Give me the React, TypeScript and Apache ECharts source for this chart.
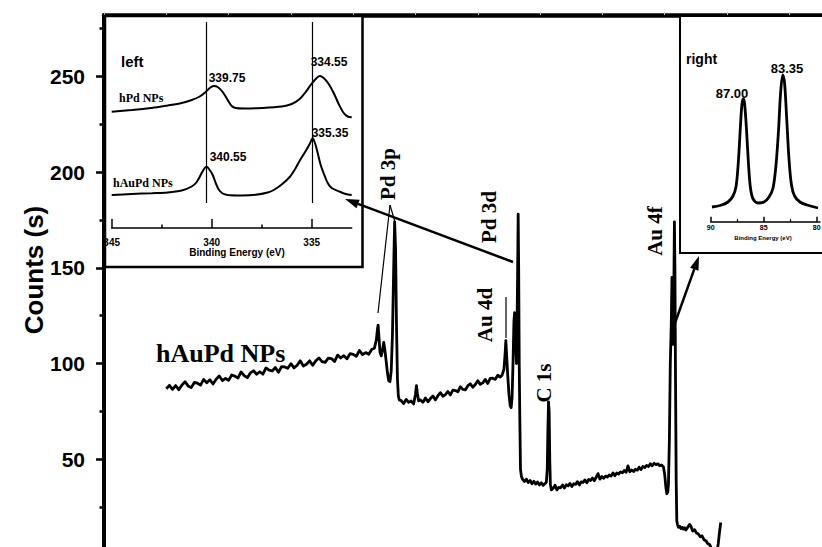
import React, { useEffect, useRef } from "react";
import * as echarts from "echarts";

// ---------- DATA ----------
// Survey spectrum of hAuPd NPs: [binding energy (eV), counts]
const survey: [number, number][] = [
  [900, 86.8], [895, 88.6], [890, 86.5], [885, 88.5], [880, 86.3], [875, 88.7], [870, 90.5], [865, 88.3], [860, 87.4], [855, 90.1],
  [850, 89.7], [845, 88.7], [840, 91.7], [835, 90.0], [830, 91.5], [825, 89.3], [820, 91.8], [815, 93.5], [810, 91.1], [805, 92.2],
  [800, 91.2], [795, 94.0], [790, 93.4], [785, 92.4], [780, 95.6], [775, 93.7], [770, 92.6], [765, 95.1], [760, 96.2], [755, 94.4],
  [750, 95.7], [745, 94.4], [740, 97.7], [735, 96.5], [730, 96.1], [725, 97.9], [720, 95.4], [715, 98.4], [710, 98.2], [705, 97.5],
  [700, 99.9], [695, 97.7], [690, 99.1], [685, 101.4], [680, 98.7], [675, 99.6], [670, 101.4], [665, 99.1], [660, 101.4], [655, 102.9],
  [650, 101.0], [645, 100.6], [640, 102.8], [635, 102.6], [630, 101.0], [625, 104.4], [620, 102.9], [615, 104.1], [610, 102.5], [605, 105.1],
  [600, 104.8], [595, 103.8], [590, 106.8], [585, 104.6], [580, 105.7], [575, 104.8], [570, 107.4],
  [566, 108.0], [563, 112], [561, 118], [560, 120], [558.5, 113], [557, 106], [555, 104], [553, 107], [551, 111], [549.5, 108],
  [547, 101], [545, 95], [543, 91], [541, 90.5], [539, 96], [537, 115], [535, 150], [533.5, 174], [532, 160], [530.5, 120],
  [529, 92], [527.5, 83], [526, 81], [523, 80.6], [519, 79.1], [515, 81.2], [511, 79.7], [507, 80.4], [503, 78.9], [500, 84],
  [498.5, 88.5], [497, 84.5], [495, 80.5], [492, 81.0], [488, 79.7], [484, 82.0], [480, 80.0], [476, 81.7], [472, 83.0], [468, 81.0],
  [464, 83.2], [460, 84.8], [456, 82.9], [452, 83.8], [448, 85.4], [444, 83.6], [440, 86.1], [436, 85.9], [432, 85.2], [428, 87.9],
  [424, 86.5], [420, 86.2], [416, 88.4], [412, 89.4], [408, 87.6], [404, 89.0], [400, 91.0], [396, 89.1], [392, 89.9], [388, 91.7],
  [384, 89.6], [380, 92.2], [376, 92.3], [372, 91.7], [368, 93.9], [364, 92.9], [361, 93.9], [358, 97], [356, 106], [355, 112],
  [354, 106], [352, 94], [350, 84], [348, 78], [346.5, 77], [345, 82], [343.5, 100], [342, 122], [341, 126.5], [340, 118],
  [339, 110], [338, 100], [337, 120], [336, 150], [335.2, 178], [334.4, 150], [333.5, 100], [332.5, 70], [331.5, 45], [330, 41],
  [328, 39.5], [325, 38.4], [322, 39.6], [319, 37.8], [316, 38.9], [313, 37.2], [310, 38.5], [307, 37.0], [304, 38.1], [301, 36.6],
  [298, 37.7], [295, 36.4], [292, 37.3], [290, 38], [288.5, 45], [287.5, 65], [286.5, 80], [285.5, 75], [284.5, 50], [283.5, 37],
  [282, 34], [279, 34.9], [276, 36.4], [273, 34.0], [270, 35.3], [267, 35.1], [264, 36.6], [261, 35.0], [258, 36.7], [255, 36.1],
  [252, 37.4], [249, 35.8], [246, 37.2], [243, 36.9], [240, 38.3], [237, 36.6], [234, 38.2], [231, 37.9], [228, 39.2], [225, 37.7],
  [222, 39.4], [219, 38.9], [216, 40.2], [213, 38.8], [210, 40.6], [207, 42.5], [204, 39.6], [201, 41.0], [198, 40.1], [195, 41.2],
  [192, 40.7], [189, 41.8], [186, 41.2], [183, 42.9], [180, 41.4], [177, 42.8], [174, 42.3], [171, 43.4], [168, 42.9], [165, 44.1],
  [162, 43.2], [159, 46.5], [156, 43.5], [153, 44.4], [150, 43.6], [147, 44.8], [144, 44.3], [141, 45.8], [138, 44.6], [135, 46.2],
  [132, 45.7], [129, 46.8], [126, 46.2], [123, 47.6], [120, 46.6], [117, 47.9], [114, 47.2], [111, 47.6], [108, 46.6], [105, 47],
  [102, 46], [100, 42], [98, 35], [96.5, 32], [95, 33], [94, 37], [92.5, 60], [91, 100], [89.5, 120], [88.3, 145],
  [87.3, 135], [86.3, 110], [85.3, 140], [84.4, 174], [83.6, 150], [82.6, 90], [81.6, 40], [80.6, 18], [79.5, 16], [78, 14.5],
  [76, 15], [74, 13.8], [72, 14.5], [70, 13.5], [68, 14.2], [66, 13], [63, 14.5], [60, 16], [58, 15], [55, 12.5],
  [52, 13.2], [49, 11.5], [46, 11], [43, 9.5], [40, 10], [37, 8], [34, 7.5], [31, 6], [28, 5.5], [25, 3.5],
  [22, 2.5], [19, 1.5], [16, 2], [14, 6], [12, 12], [10, 17],
];

// Left inset (Pd 3d region): [binding energy (eV), intensity (a.u.)]
const hPdLeft: [number, number][] = [
  [345, 116.3], [344, 118], [343, 120], [342.2, 122.5], [341.5, 125], [341, 128], [340.6, 131.5], [340.3, 136], [340.1, 140], [339.9, 142],
  [339.7, 141], [339.45, 136], [339.2, 128], [339.0, 122], [338.8, 120], [338.4, 119.5], [337.5, 120], [336.5, 121.5], [336, 124], [335.6, 129],
  [335.3, 136], [335.05, 143], [334.8, 149], [334.6, 152], [334.4, 150], [334.15, 144], [333.9, 135], [333.65, 124], [333.4, 115], [333.2, 111.5],
  [333, 110.7],
];
const hAuPdLeft: [number, number][] = [
  [345, 33], [344, 34], [343, 34.8], [342.2, 35.5], [341.5, 37.5], [341, 41.5], [340.75, 46], [340.5, 55], [340.35, 60], [340.25, 61.3],
  [340.1, 58], [339.95, 53], [339.8, 45], [339.65, 38.5], [339.45, 34.5], [339.2, 33], [338.5, 32.5], [337.8, 33.2], [337.2, 35.5], [336.9, 38],
  [336.5, 43.5], [336.1, 51], [335.8, 60], [335.55, 69], [335.3, 77], [335.1, 84], [334.95, 89.7], [334.82, 84], [334.7, 75], [334.55, 63],
  [334.4, 54.7], [334.2, 45], [334.0, 40], [333.6, 36.3], [333.3, 34], [333, 33],
];
const leftPeakLines = [340.25, 334.95];
const leftPeakLabels = ["339.75", "334.55", "340.55", "335.35"];

// Right inset (Au 4f region): [binding energy (eV), intensity (a.u.)]
const au4fRight: [number, number][] = [
  [89.88, 14.7], [89.12, 16.2], [88.37, 19.7], [87.9, 25.7], [87.6, 35.7], [87.38, 61.7], [87.19, 96.7], [87.05, 117.7], [86.92, 122.7], [86.8, 117.7],
  [86.62, 91.7], [86.43, 56.7], [86.25, 33.7], [86.0, 22.7], [85.54, 18.7], [84.97, 19.7], [84.5, 24.7], [84.12, 33.7], [83.84, 56.7], [83.6, 91.7],
  [83.42, 126.7], [83.21, 146.7], [83.04, 139.7], [82.85, 106.7], [82.61, 61.7], [82.38, 36.7], [82.09, 25.7], [81.58, 19.7], [80.92, 16.7], [79.88, 13.7],
];
const rightPeakLabels = ["87.00", "83.35"];

// Tick values
const mainYMajor = [50, 100, 150, 200, 250];
const mainYMinor = [25, 75, 125, 175, 225, 275];
const leftXMajor = [335, 340, 345];
const leftXMinor = [337.5, 342.5];
const rightXMajor = [80, 85, 90];
const rightXMinor = [82.5, 87.5];

// ---------- STYLE ----------
const SANS = "'Liberation Sans', Arial, Helvetica, sans-serif";
const NARROW = "'Liberation Sans Narrow', 'Arial Narrow', 'Liberation Sans', Arial, sans-serif";
const SERIF = "'Liberation Serif', 'Times New Roman', serif";

function arrow(x1: number, y1: number, x2: number, y2: number) {
  const dx = x2 - x1, dy = y2 - y1;
  const L = Math.hypot(dx, dy);
  const ux = dx / L, uy = dy / L;
  const head = 14, half = 4.5;
  const bx = x2 - ux * head, by = y2 - uy * head;
  return [
    { type: "line", z: 30, shape: { x1, y1, x2: bx, y2: by }, style: { stroke: "#000", lineWidth: 2.5 } },
    {
      type: "polygon", z: 30,
      shape: { points: [[x2, y2], [bx - uy * half, by + ux * half], [bx + uy * half, by - ux * half]] },
      style: { fill: "#000" },
    },
  ];
}

function label(text: string, x: number, y: number, size: number, family: string, rotate = false, align = "center") {
  return {
    type: "text", z: 30, x, y, rotation: rotate ? Math.PI / 2 : 0,
    style: { text, fontSize: size, fontWeight: "bold", fontFamily: family, fill: "#000", align, verticalAlign: "middle" },
  };
}

function thin(x1: number, y1: number, x2: number, y2: number) {
  return { type: "line", z: 30, shape: { x1, y1, x2, y2 }, style: { stroke: "#000", lineWidth: 1.2 } };
}

export default function App() {
  const ref = useRef<HTMLDivElement>(null);
  useEffect(() => {
    const chart = echarts.init(ref.current!, null, { renderer: "svg" });
    const option: any = {
      animation: false,
      backgroundColor: "#fff",
      grid: [
        { left: 104, top: 15, width: 747.6, height: 540, outerBoundsMode: "none", containLabel: false },
        { left: 111.7, top: 22, width: 240, height: 206, outerBoundsMode: "none", containLabel: false },
        { left: 710.7, top: 21.7, width: 109.2, height: 200, outerBoundsMode: "none", containLabel: false },
      ],
      xAxis: [
        { gridIndex: 0, type: "value", min: -200, max: 1000, inverse: true, show: false },
        {
          gridIndex: 0, type: "value", min: -200, max: 1000, interval: 100, inverse: true, position: "top",
          axisLine: { show: true, onZero: false, lineStyle: { color: "#000", width: 4.5 } },
          axisTick: { show: true, inside: false, length: 3, lineStyle: { color: "#c8c8c8", width: 1 } },
          axisLabel: { show: false }, splitLine: { show: false },
        },
        {
          gridIndex: 1, type: "value", min: 333, max: 345, inverse: true, position: "bottom", z: 10,
          axisLine: { show: true, onZero: false, lineStyle: { color: "#000", width: 1.5 } },
          axisTick: { show: true, inside: true, length: 9, customValues: leftXMajor, lineStyle: { color: "#000", width: 1.5 } },
          axisLabel: { show: true, customValues: leftXMajor, margin: 9, fontSize: 10, fontWeight: "bold", fontFamily: NARROW, color: "#000" },
          splitLine: { show: false },
        },
        {
          gridIndex: 1, type: "value", min: 333, max: 345, inverse: true, position: "bottom", z: 10,
          axisLine: { show: false, onZero: false },
          axisTick: { show: true, inside: true, length: 3.5, customValues: leftXMinor, lineStyle: { color: "#000", width: 1.5 } },
          axisLabel: { show: false }, splitLine: { show: false },
        },
        {
          gridIndex: 2, type: "value", min: 79.7, max: 90, inverse: true, position: "bottom", z: 10,
          axisLine: { show: true, onZero: false, lineStyle: { color: "#000", width: 1.5 } },
          axisTick: { show: true, inside: true, length: 5, customValues: rightXMajor, lineStyle: { color: "#000", width: 1.5 } },
          axisLabel: { show: true, customValues: rightXMajor, margin: 2, fontSize: 7, fontWeight: "bold", fontFamily: SANS, color: "#000" },
          splitLine: { show: false },
        },
        {
          gridIndex: 2, type: "value", min: 79.7, max: 90, inverse: true, position: "bottom", z: 10,
          axisLine: { show: false, onZero: false },
          axisTick: { show: true, inside: true, length: 2.5, customValues: rightXMinor, lineStyle: { color: "#000", width: 1.2 } },
          axisLabel: { show: false }, splitLine: { show: false },
        },
      ],
      yAxis: [
        {
          gridIndex: 0, type: "value", min: 0, max: 282, position: "left",
          axisLine: { show: true, onZero: false, lineStyle: { color: "#000", width: 4 } },
          axisTick: { show: true, inside: false, length: 8, customValues: mainYMajor, lineStyle: { color: "#000", width: 2.5 } },
          axisLabel: { show: true, customValues: mainYMajor, margin: 19, fontSize: 21, fontWeight: "bold", fontFamily: SANS, color: "#000" },
          splitLine: { show: false },
        },
        {
          gridIndex: 0, type: "value", min: 0, max: 282, position: "left",
          axisLine: { show: false, onZero: false },
          axisTick: { show: true, inside: false, length: 4.5, customValues: mainYMinor, lineStyle: { color: "#000", width: 2.5 } },
          axisLabel: { show: false }, splitLine: { show: false },
        },
        { gridIndex: 1, type: "value", min: 0, max: 206, show: false },
        { gridIndex: 2, type: "value", min: 0, max: 200, show: false },
      ],
      series: [
        {
          type: "line", xAxisIndex: 0, yAxisIndex: 0, data: survey, showSymbol: false, z: 2,
          lineStyle: { color: "#000", width: 2.8, join: "round" }, itemStyle: { color: "#000" },
        },
        {
          type: "line", xAxisIndex: 2, yAxisIndex: 2, data: hPdLeft, showSymbol: false, smooth: 0.3, z: 10,
          lineStyle: { color: "#000", width: 2 }, itemStyle: { color: "#000" },
        },
        {
          type: "line", xAxisIndex: 2, yAxisIndex: 2, data: hAuPdLeft, showSymbol: false, smooth: 0.3, z: 10,
          lineStyle: { color: "#000", width: 2 }, itemStyle: { color: "#000" },
          markLine: {
            silent: true, symbol: "none", label: { show: false },
            lineStyle: { color: "#000", width: 1.2, type: "solid" },
            data: leftPeakLines.map((e) => [{ coord: [e, 25] }, { coord: [e, 206] }]),
          },
        },
        {
          type: "line", xAxisIndex: 4, yAxisIndex: 3, data: au4fRight, showSymbol: false, smooth: 0.3, z: 10,
          lineStyle: { color: "#000", width: 2.8 }, itemStyle: { color: "#000" },
        },
      ],
      graphic: [
        // inset frames
        { type: "rect", z: 5, shape: { x: 105, y: 16, width: 257.5, height: 251 }, style: { fill: "#fff", stroke: "#000", lineWidth: 2.5 } },
        { type: "rect", z: 5, shape: { x: 680, y: 16, width: 150, height: 237 }, style: { fill: "#fff", stroke: "#000", lineWidth: 2 } },
        // left inset texts
        label("left", 121, 61, 15, SANS, false, "left"),
        label("hPd NPs", 119, 98, 12, SERIF, false, "left"),
        label("hAuPd NPs", 113, 183, 12, SERIF, false, "left"),
        label(leftPeakLabels[0], 227, 78, 12, NARROW),
        label(leftPeakLabels[1], 329, 62, 12, NARROW),
        label(leftPeakLabels[2], 228, 157, 12, NARROW),
        label(leftPeakLabels[3], 330, 133, 12, NARROW),
        label("Binding Energy (eV)", 237, 252, 10, NARROW),
        // right inset texts
        label("right", 686, 59, 14, SANS, false, "left"),
        label(rightPeakLabels[0], 732, 93, 13, SANS),
        label(rightPeakLabels[1], 787, 68, 13, SANS),
        label("Binding Energy (eV)", 763, 238, 6, SANS),
        // main annotations
        label("Counts (s)", 34, 270, 26, SANS, true),
        label("hAuPd NPs", 156, 353, 26, SERIF, false, "left"),
        label("Pd 3p", 388, 174, 21, SERIF, true),
        label("Pd 3d", 489, 217, 21, SERIF, true),
        label("Au 4d", 485, 315, 21, SERIF, true),
        label("C 1s", 544, 383, 21, SERIF, true),
        label("Au 4f", 655, 231, 21, SERIF, true),
        thin(390, 205, 378, 313),
        thin(390, 205, 395, 222),
        thin(506, 297, 506, 338),
        ...arrow(513, 262, 345, 199),
        ...arrow(675, 323, 699, 256),
      ],
    };
    chart.setOption(option);
    return () => chart.dispose();
  }, []);
  return (
    <div
      ref={ref}
      style={{ position: "absolute", left: 0, top: 0, width: 822, height: 547, background: "#fff" }}
    />
  );
}
